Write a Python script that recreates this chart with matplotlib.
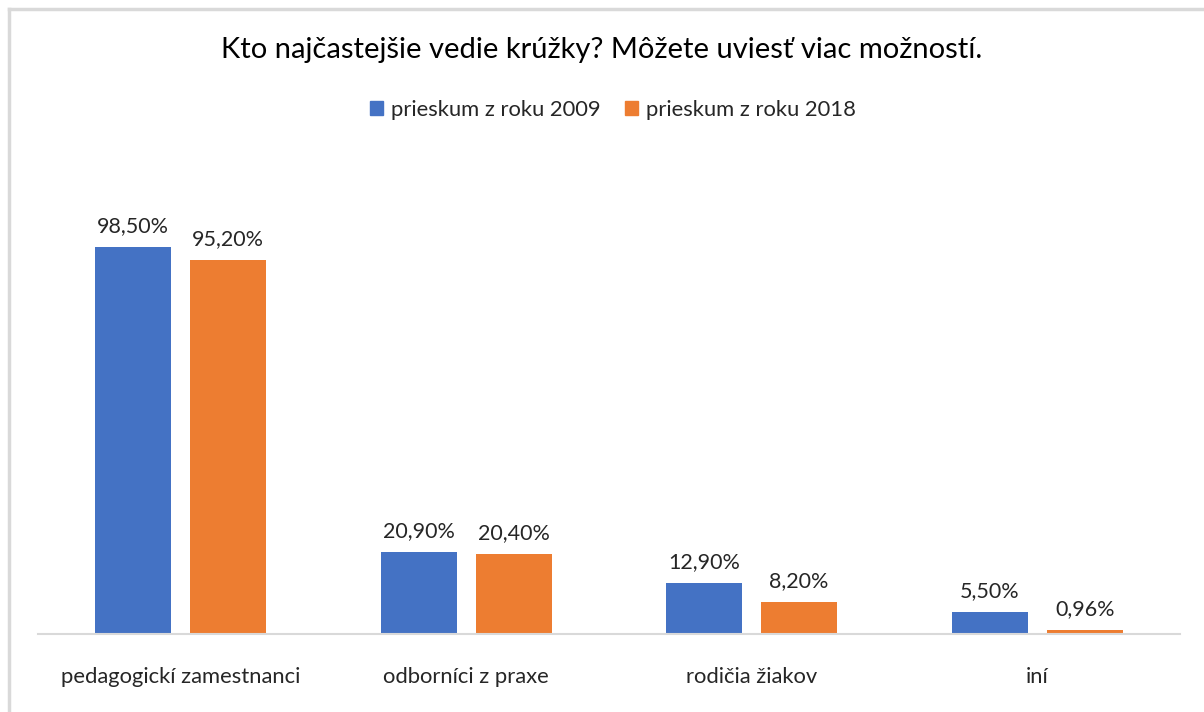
import matplotlib.pyplot as plt
import numpy as np
from matplotlib.lines import Line2D
from matplotlib.patches import Patch

categories = ["pedagogickí zamestnanci", "odborníci z praxe", "rodičia žiakov", "iní"]
series_names = ["prieskum z roku 2009", "prieskum z roku 2018"]
values_2009 = [98.5, 20.9, 12.9, 5.5]
values_2018 = [95.2, 20.4, 8.2, 0.96]
labels_2009 = ["98,50%", "20,90%", "12,90%", "5,50%"]
labels_2018 = ["95,20%", "20,40%", "8,20%", "0,96%"]

BLUE = "#4472C4"
ORANGE = "#ED7D31"
GRID = "#D9D9D9"

plt.rcParams['font.family'] = ['Lato', 'DejaVu Sans']

W, H = 1204, 712
fig = plt.figure(figsize=(W / 100, H / 100), dpi=100)

# chart border (only top and left visible in the reference)
fig.add_artist(Line2D([9 / W, 9 / W], [0, 1 - 9 / H], color=GRID, lw=2.5))
fig.add_artist(Line2D([9 / W, 1], [1 - 9 / H, 1 - 9 / H], color=GRID, lw=2.5))

ymax = 120
px_per_unit = 3.93
ax_left, ax_right, ax_base = 38, 1180, 634
ax_h = ymax * px_per_unit
ax = fig.add_axes([ax_left / W, (H - ax_base) / H, (ax_right - ax_left) / W, ax_h / H])

x = np.arange(len(categories))
width = 0.266
off = 0.166
b1 = ax.bar(x - off, values_2009, width, color=BLUE)
b2 = ax.bar(x + off, values_2018, width, color=ORANGE)

for bars, labs in ((b1, labels_2009), (b2, labels_2018)):
    for rect, lab in zip(bars, labs):
        ax.annotate(lab, (rect.get_x() + rect.get_width() / 2, rect.get_height()),
                    xytext=(0, 8), textcoords="offset points", ha="center", va="bottom",
                    fontsize=15.5, color="#262626")

ax.set_xlim(-0.5, len(categories) - 0.5)
ax.set_ylim(0, ymax)
ax.set_yticks([])
ax.set_xticks(x)
ax.set_xticklabels(categories, fontsize=15.8, color="#262626")
ax.tick_params(axis="x", length=0, pad=24)
for s in ("top", "right", "left"):
    ax.spines[s].set_visible(False)
ax.spines["bottom"].set_color(GRID)
ax.spines["bottom"].set_linewidth(1.5)

fig.text(0.5, 1 - 50 / H, "Kto najčastejšie vedie krúžky? Môžete uviesť viac možností.",
         ha="center", va="center", fontsize=21, color="#000000")

handles = [Patch(color=BLUE), Patch(color=ORANGE)]
fig.legend(handles, series_names, loc="center", bbox_to_anchor=(613 / W, 1 - 110 / H), ncol=2,
           frameon=False, fontsize=15.8, handlelength=0.6, handleheight=0.6,
           handletextpad=0.35, columnspacing=1.1, labelcolor="#262626")

fig.savefig("out.png", dpi=100, facecolor="white")
